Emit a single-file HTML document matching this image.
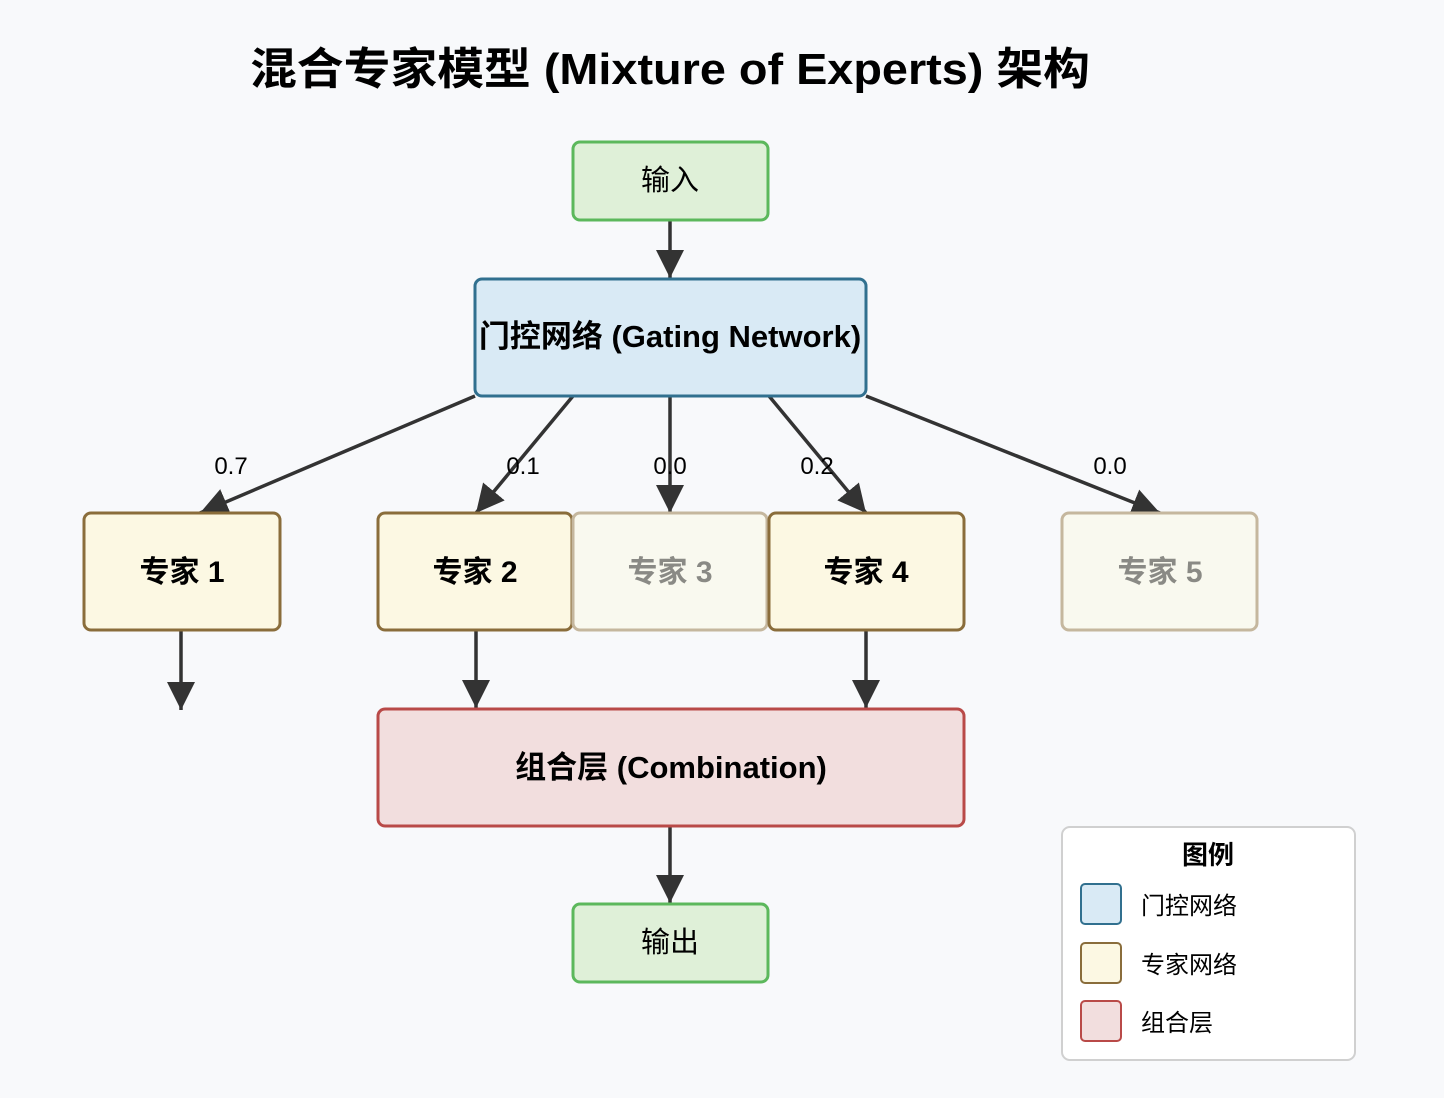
<!DOCTYPE html>
<html><head><meta charset="utf-8"><style>
html,body{margin:0;padding:0;background:#f8f9fb;}
svg{display:block;font-family:"Liberation Sans","Noto Sans CJK SC",sans-serif;}
</style></head><body>
<svg width="1444" height="1098" viewBox="0 0 1444 1098" xmlns="http://www.w3.org/2000/svg">
<defs>
<marker id="a" markerUnits="userSpaceOnUse" markerWidth="30" markerHeight="30" refX="28" refY="14" orient="auto">
<path d="M0,0 L28,14 L0,28 z" fill="#333"/>
</marker>
</defs>
<rect width="1444" height="1098" fill="#f8f9fb"/>
<text x="250" y="84" font-size="44" font-weight="bold" fill="#000" textLength="840" lengthAdjust="spacingAndGlyphs">混合专家模型 (Mixture of Experts) 架构</text>

<g stroke="#333" stroke-width="3.5" fill="none">
<line x1="670" y1="220" x2="670" y2="278" marker-end="url(#a)"/>
<line x1="475" y1="396" x2="200" y2="513" marker-end="url(#a)"/>
<line x1="573" y1="396" x2="476" y2="513" marker-end="url(#a)"/>
<line x1="670" y1="396" x2="670" y2="513" marker-end="url(#a)"/>
<line x1="769" y1="396" x2="866" y2="513" marker-end="url(#a)"/>
<line x1="866" y1="396" x2="1160" y2="513" marker-end="url(#a)"/>
<line x1="181" y1="630" x2="181" y2="710" marker-end="url(#a)"/>
<line x1="476" y1="630" x2="476" y2="708" marker-end="url(#a)"/>
<line x1="866" y1="630" x2="866" y2="708" marker-end="url(#a)"/>
<line x1="670" y1="826" x2="670" y2="903" marker-end="url(#a)"/>
</g>

<rect x="573" y="142" width="195" height="78" rx="7" fill="#dff0d8" stroke="#5cb85c" stroke-width="3"/>
<text x="670" y="190" text-anchor="middle" font-size="29" fill="#000">输入</text>

<rect x="475" y="279" width="391" height="117" rx="7" fill="#d9eaf5" stroke="#31708f" stroke-width="3"/>
<text x="670" y="347" text-anchor="middle" font-size="31" font-weight="bold" fill="#000">门控网络 (Gating Network)</text>

<g font-size="24" fill="#000" text-anchor="middle">
<text x="231" y="474">0.7</text>
<text x="523" y="474">0.1</text>
<text x="670" y="474">0.0</text>
<text x="817" y="474">0.2</text>
<text x="1110" y="474">0.0</text>
</g>

<g stroke-width="3">
<rect x="84" y="513" width="196" height="117" rx="7" fill="#fcf8e3" stroke="#8a6d3b"/>
<rect x="378" y="513" width="194" height="117" rx="7" fill="#fcf8e3" stroke="#8a6d3b"/>
<rect x="573" y="513" width="194" height="117" rx="7" fill="#f9f9ef" stroke="#c5b79e"/>
<rect x="769" y="513" width="195" height="117" rx="7" fill="#fcf8e3" stroke="#8a6d3b"/>
<rect x="1062" y="513" width="195" height="117" rx="7" fill="#f9f9ef" stroke="#c5b79e"/>
</g>
<g font-size="30" font-weight="bold" text-anchor="middle">
<text x="182" y="582" fill="#000">专家 1</text>
<text x="475" y="582" fill="#000">专家 2</text>
<text x="670" y="582" fill="#8a8a85">专家 3</text>
<text x="866" y="582" fill="#000">专家 4</text>
<text x="1160" y="582" fill="#8a8a85">专家 5</text>
</g>

<rect x="378" y="709" width="586" height="117" rx="7" fill="#f2dede" stroke="#b94a48" stroke-width="3"/>
<text x="671" y="778" text-anchor="middle" font-size="31" font-weight="bold" fill="#000">组合层 (Combination)</text>

<rect x="573" y="904" width="195" height="78" rx="7" fill="#dff0d8" stroke="#5cb85c" stroke-width="3"/>
<text x="670" y="952" text-anchor="middle" font-size="29" fill="#000">输出</text>

<rect x="1062" y="827" width="293" height="233" rx="8" fill="#fff" stroke="#d0d0d0" stroke-width="2"/>
<text x="1208" y="864" text-anchor="middle" font-size="26" font-weight="bold" fill="#000">图例</text>
<rect x="1081" y="884" width="40" height="40" rx="4" fill="#d9eaf5" stroke="#31708f" stroke-width="2"/>
<text x="1141" y="914" font-size="24" fill="#000">门控网络</text>
<rect x="1081" y="943" width="40" height="40" rx="4" fill="#fcf8e3" stroke="#8a6d3b" stroke-width="2"/>
<text x="1141" y="973" font-size="24" fill="#000">专家网络</text>
<rect x="1081" y="1001" width="40" height="40" rx="4" fill="#f2dede" stroke="#b94a48" stroke-width="2"/>
<text x="1141" y="1031" font-size="24" fill="#000">组合层</text>
</svg>
</body></html>
